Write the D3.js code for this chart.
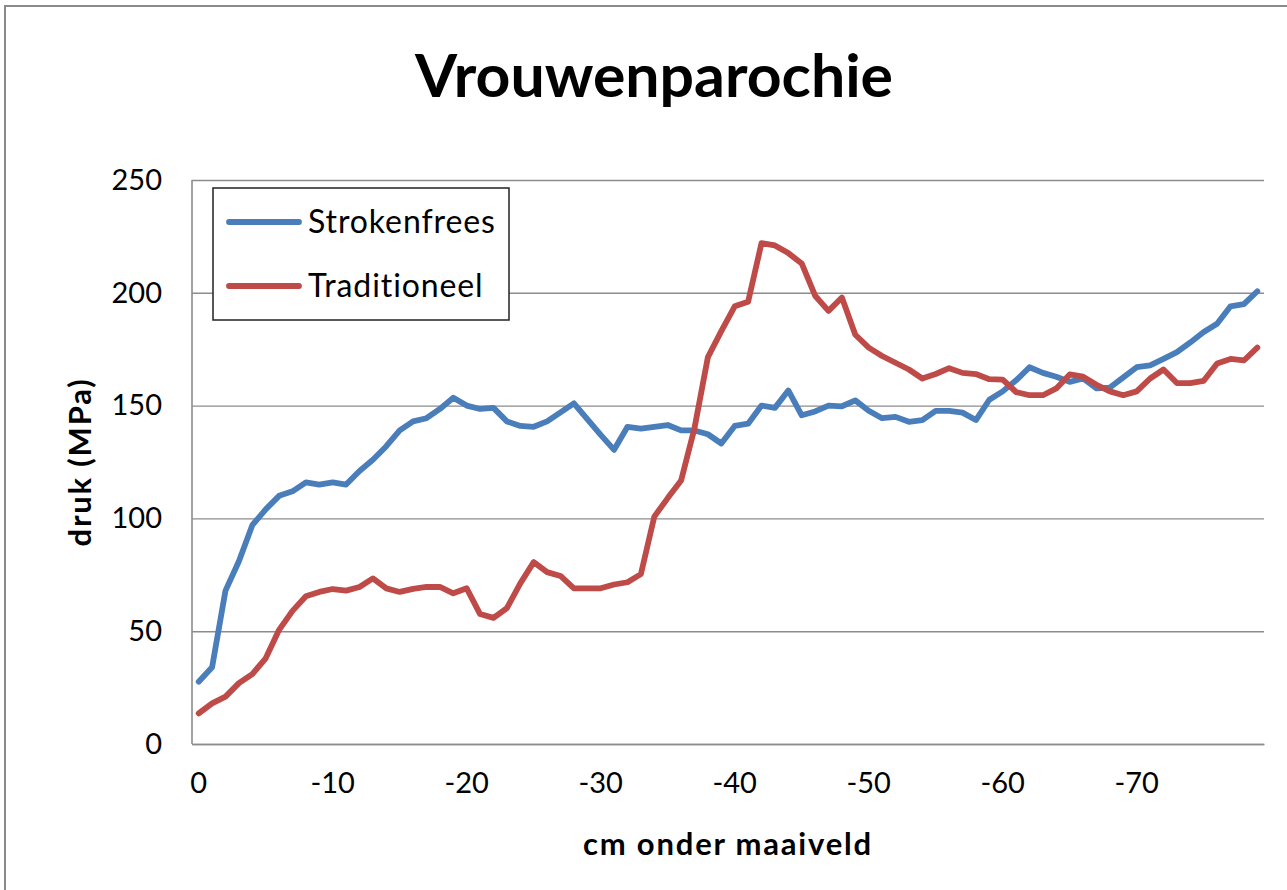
<!DOCTYPE html>
<html>
<head>
<meta charset="utf-8">
<script src="https://cdnjs.cloudflare.com/ajax/libs/d3/7.8.5/d3.min.js"></script>
<style>
  html, body { margin: 0; padding: 0; background: #fff; }
  svg { display: block; }
  text { font-family: Lato, "Open Sans", "DejaVu Sans", sans-serif; fill: #000; }
</style>
</head>
<body>
<svg id="chart" width="1287" height="890"></svg>
<script>
// ---- data ----
const title = "Vrouwenparochie";
const xTitle = "cm onder maaiveld";
const yTitle = "druk (MPa)";
const depths = [0,-1,-2,-3,-4,-5,-6,-7,-8,-9,-10,-11,-12,-13,-14,-15,-16,-17,-18,-19,
  -20,-21,-22,-23,-24,-25,-26,-27,-28,-29,-30,-31,-32,-33,-34,-35,-36,-37,-38,-39,
  -40,-41,-42,-43,-44,-45,-46,-47,-48,-49,-50,-51,-52,-53,-54,-55,-56,-57,-58,-59,
  -60,-61,-62,-63,-64,-65,-66,-67,-68,-69,-70,-71,-72,-73,-74,-75,-76,-77,-78,-79];
const xTickLabels = [0,-10,-20,-30,-40,-50,-60,-70];
const yTicks = [0,50,100,150,200,250];
const seriesNames = ["Strokenfrees","Traditioneel"];
const strokenfrees = [27.6,34,68,81,97,104,110,112,116,115,116,115,121,126,132,139,
  143,144.4,148.5,153.5,150,148.5,149,143,141,140.6,143,147,151,144,137,130.4,
  140.6,139.8,140.6,141.4,139,139,137.3,133.2,141,142,150,149,156.7,145.7,147.4,150,
  149.7,152.3,147.7,144.4,145,142.8,143.6,147.7,147.7,146.9,143.6,152.6,156.3,161.2,167,164.5,
  162.8,160.5,162,157.6,158,162.5,167,167.8,170.7,173.7,178,182.6,186.3,194,195,200.7];
const traditioneel = [13.6,18,21,27,31,38,50.6,59,65.5,67.4,68.7,68,69.6,73.4,69,67.4,
  68.75,69.6,69.6,66.8,69,57.6,55.9,60.2,71.2,80.6,76.2,74.5,69,69,69,70.7,
  71.7,75.3,100.8,109,116.8,140,171.5,183,194,196,222,221,217.6,213,198.7,192,
  197.9,181.4,175.7,172,169,166,162,164,166.6,164.5,164,161.7,161.5,156,154.6,154.6,
  157.6,163.8,162.8,159.2,156.3,154.6,156.3,162,166,160,160,161,168.7,170.7,170,175.7];
const colors = ["#4A7EBB", "#BE4B48"];

// ---- layout ----
const svg = d3.select("#chart");
const plot = { left: 192, top: 180, right: 1264, bottom: 744 };

// outer chart border
svg.append("rect").attr("x", 5).attr("y", 6).attr("width", 1300).attr("height", 900)
  .attr("fill", "none").attr("stroke", "#8a8a8a").attr("stroke-width", 2);

const x = d3.scaleBand().domain(depths).range([plot.left, plot.right]).paddingInner(0).paddingOuter(0);
const y = d3.scaleLinear().domain([0, 250]).range([plot.bottom, plot.top]);
const cx = d => x(d) + x.bandwidth() / 2;

// gridlines + y tick labels
const yAxis = d3.axisLeft(y).tickValues(yTicks).tickSize(-(plot.right - plot.left)).tickPadding(30);
const gy = svg.append("g").attr("transform", `translate(${plot.left},0)`).call(yAxis);
gy.select(".domain").remove();
gy.selectAll(".tick line").attr("stroke", "#8c8c8c").attr("stroke-width", 1.4);
gy.selectAll(".tick text").attr("font-size", 29).attr("fill", "#000")
  .style("font-family", "Lato, sans-serif");

// axis lines
svg.append("line").attr("x1", plot.left).attr("x2", plot.left).attr("y1", plot.top).attr("y2", plot.bottom)
  .attr("stroke", "#8c8c8c").attr("stroke-width", 1.6);

const xAxis = d3.axisBottom(x).tickValues(xTickLabels).tickSize(0).tickPadding(28).tickFormat(d => d);
const gx = svg.append("g").attr("transform", `translate(0,${plot.bottom})`).call(xAxis);
gx.select(".domain").attr("stroke", "#8c8c8c").attr("stroke-width", 1.6);
gx.selectAll(".tick text").attr("font-size", 29).attr("fill", "#000")
  .style("font-family", "Lato, sans-serif");

// lines
const line = d3.line().x((d, i) => cx(depths[i])).y(d => y(d));
[strokenfrees, traditioneel].forEach((s, k) => {
  svg.append("path").datum(s).attr("d", line).attr("fill", "none")
    .attr("stroke", colors[k]).attr("stroke-width", 5.8)
    .attr("stroke-linejoin", "round").attr("stroke-linecap", "round");
});

// title
svg.append("text").attr("x", 654).attr("y", 97).attr("text-anchor", "middle")
  .attr("font-size", 60).attr("font-weight", "bold").attr("textLength", 478)
  .attr("lengthAdjust", "spacingAndGlyphs").text(title);

// axis titles
svg.append("text").attr("x", (plot.left + plot.right) / 2).attr("y", 855).attr("text-anchor", "middle")
  .attr("font-size", 31).attr("font-weight", "bold").attr("letter-spacing", 1.8).text(xTitle);
svg.append("text").attr("transform", `translate(91,${(plot.top + plot.bottom) / 2}) rotate(-90)`)
  .attr("text-anchor", "middle").attr("font-size", 31).attr("font-weight", "bold")
  .attr("letter-spacing", 1.8).text(yTitle);

// legend
const lg = svg.append("g");
lg.append("rect").attr("x", 213).attr("y", 188).attr("width", 296).attr("height", 132)
  .attr("fill", "#fff").attr("stroke", "#222").attr("stroke-width", 1.5);
seriesNames.forEach((n, k) => {
  const yy = 222 + k * 64;
  lg.append("line").attr("x1", 229).attr("x2", 299).attr("y1", yy).attr("y2", yy)
    .attr("stroke", colors[k]).attr("stroke-width", 5.8).attr("stroke-linecap", "round");
  lg.append("text").attr("x", 308).attr("y", yy + 11).attr("font-size", 32)
    .attr("letter-spacing", 0.9).attr("fill", "#222").text(n);
});
</script>
</body>
</html>
